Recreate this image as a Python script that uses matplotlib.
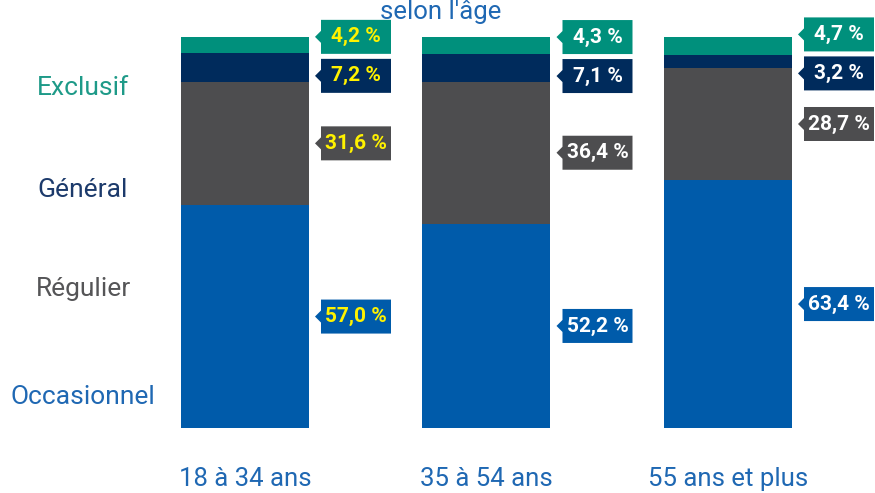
import matplotlib
matplotlib.use("Agg")
import matplotlib.pyplot as plt
from matplotlib.patches import Polygon
import numpy as np

# donnees (en %)
groupes = ["18 à 34 ans", "35 à 54 ans", "55 ans et plus"]
categories = ["Occasionnel", "Régulier", "Général", "Exclusif"]
occasionnel = [57.0, 52.2, 63.4]
regulier = [31.6, 36.4, 28.7]
general = [7.2, 7.1, 3.2]
exclusif = [4.2, 4.3, 4.7]
titre = "selon l'âge"

couleurs = ["#005BAA", "#4D4D4F", "#002B5C", "#00907C"]
couleurs_cat = ["#1F68B3", "#555557", "#1C3A6B", "#1E9A88"]
couleurs_texte = ["#FFF200", "#FFFFFF", "#FFFFFF"]

W, H = 875, 493
fig = plt.figure(figsize=(W / 100, H / 100), dpi=100)
ax = fig.add_axes([0, 0, 1, 1])

largeur = 0.53
px_x = 241.5          # pixels par unite en x
px_y = 3.91           # pixels par % en y
x0 = -largeur / 2 - 181 / px_x
y0 = -(H - 428) / px_y
ax.set_xlim(x0, x0 + W / px_x)
ax.set_ylim(y0, y0 + H / px_y)
ax.axis("off")

x = np.arange(len(groupes))
series = [occasionnel, regulier, general, exclusif]
bas = np.zeros(len(groupes))
centres = []
for vals, c in zip(series, couleurs):
    vals = np.array(vals)
    ax.bar(x, vals, largeur, bottom=bas, color=c, linewidth=0)
    centres.append(bas + vals / 2)
    bas = bas + vals
centres = np.array(centres)   # (serie, groupe)

# ecartement des etiquettes qui se chevauchent
haut_boite = 34 / px_y
ecart_min = haut_boite + 5 / px_y
pos = centres.copy()
for g in range(len(groupes)):
    for _ in range(20):
        for s in range(len(series) - 1):
            d = pos[s + 1, g] - pos[s, g]
            if d < ecart_min:
                m = (ecart_min - d) / 2
                pos[s + 1, g] += m
                pos[s, g] -= m

larg_boite = 70 / px_x
fleche = 6 / px_x
decal = 12 / px_x
police_etiq = ["Liberation Sans Narrow", "Roboto", "DejaVu Sans"]
for s, vals in enumerate(series):
    for g in range(len(groupes)):
        gauche = x[g] + largeur / 2 + decal
        yc = pos[s, g]
        hb = haut_boite / 2
        pts = [(gauche, yc + hb), (gauche + larg_boite, yc + hb),
               (gauche + larg_boite, yc - hb), (gauche, yc - hb),
               (gauche, yc - 6 / px_y), (gauche - fleche, yc),
               (gauche, yc + 6 / px_y)]
        ax.add_patch(Polygon(pts, closed=True, facecolor=couleurs[s],
                             edgecolor="none"))
        txt = f"{vals[g]:.1f}".replace(".", ",") + " %"
        ax.text(gauche + larg_boite / 2, yc, txt, ha="center", va="center",
                color=couleurs_texte[g], fontsize=15, fontweight="bold",
                family=police_etiq)

police = ["Roboto", "DejaVu Sans"]

# libelles des categories a gauche
y_cat = [397, 289, 190, 88]
for nom, c, yp in zip(categories, couleurs_cat, y_cat):
    fig.text(83 / W, 1 - yp / H, nom, ha="center", va="center", color=c,
             fontsize=19, family=police)

# libelles des groupes
for g, nom in enumerate(groupes):
    ax.text(x[g], y0 + (H - 479) / px_y, nom, ha="center", va="center",
            color="#1F68B3", fontsize=18.5, family=police)

fig.text(441 / W, 1 - 12 / H, titre, ha="center", va="center", color="#1F68B3",
         fontsize=18.5, family=police)

fig.savefig("out.png", dpi=100)
